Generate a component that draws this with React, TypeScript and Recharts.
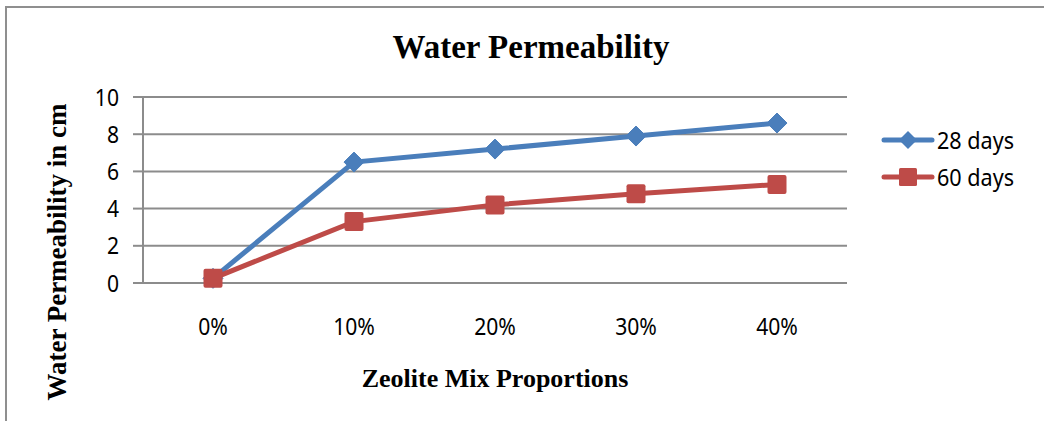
import { CartesianGrid, Line, LineChart, XAxis, YAxis } from 'recharts';

const categories = ['0%', '10%', '20%', '30%', '40%'];
const days28 = [0.25, 6.5, 7.2, 7.9, 8.6];
const days60 = [0.25, 3.3, 4.2, 4.8, 5.3];
const yTicks = [0, 2, 4, 6, 8, 10];

const data = categories.map((c, i) => ({ name: c, d28: days28[i], d60: days60[i] }));

const BLUE = '#4a7ebb';
const RED = '#be4b48';
const GRID = '#8c8c8c';
const SANS = "'Noto Sans', sans-serif";
const SERIF = "'Liberation Serif', serif";

const Diamond = (props: any) => {
  const { cx, cy } = props;
  if (cx == null || cy == null) return null;
  const r = 10;
  return (
    <path
      key={`d-${cx}`}
      d={`M${cx},${cy - r}L${cx + r},${cy}L${cx},${cy + r}L${cx - r},${cy}Z`}
      fill={BLUE}
      stroke={BLUE}
      strokeWidth={1}
      strokeLinejoin="round"
    />
  );
};

const Square = (props: any) => {
  const { cx, cy } = props;
  if (cx == null || cy == null) return null;
  const r = 9.5;
  return <rect key={`s-${cx}`} x={cx - r} y={cy - r} width={r * 2} height={r * 2} rx={2} fill={RED} />;
};

const XTick = (props: any) => {
  const { x, y, payload } = props;
  return (
    <text
      transform={`translate(${x},${y + 52}) scale(0.88,1)`}
      textAnchor="middle"
      fontFamily={SANS}
      fontSize={24}
      fill="#000"
    >
      {payload.value}
    </text>
  );
};

const YTick = (props: any) => {
  const { x, y, payload } = props;
  return (
    <text
      transform={`translate(${x},${y + 8.5}) scale(0.88,1)`}
      textAnchor="end"
      fontFamily={SANS}
      fontSize={24}
      fill="#000"
    >
      {payload.value}
    </text>
  );
};

const legendRows = [
  { label: '28 days', color: BLUE, shape: 'diamond', y: 140 },
  { label: '60 days', color: RED, shape: 'square', y: 177 },
];

export default function App() {
  return (
    <div style={{ position: 'absolute', left: 0, top: 0, width: 1044, height: 421, background: '#fff', overflow: 'hidden' }}>
      <div
        style={{
          position: 'absolute',
          left: 5,
          top: 6,
          width: 1100,
          height: 500,
          borderLeft: '2px solid #8f8f8f',
          borderTop: '2px solid #8f8f8f',
        }}
      />
      <div style={{ position: 'absolute', left: 0, top: 0 }}>
        <LineChart width={1044} height={421} data={data} margin={{ top: 97, right: 197, bottom: 98, left: 0 }}>
          <CartesianGrid horizontal vertical={false} stroke={GRID} strokeWidth={2} />
          <XAxis
            dataKey="name"
            height={40}
            padding={{ left: 70, right: 70 }}
            axisLine={{ stroke: GRID, strokeWidth: 2 }}
            tickLine={false}
            tickSize={0}
            tickMargin={0}
            tick={<XTick />}
          />
          <YAxis
            width={143}
            domain={[0, 10]}
            ticks={yTicks}
            interval={0}
            axisLine={{ stroke: GRID, strokeWidth: 2 }}
            tickLine={{ stroke: GRID, strokeWidth: 2 }}
            tickSize={10}
            tickMargin={14}
            tick={<YTick />}
          />
          <Line
            dataKey="d28"
            name="28 days"
            stroke={BLUE}
            strokeWidth={5}
            dot={<Diamond />}
            activeDot={false}
            isAnimationActive={false}
          />
          <Line
            dataKey="d60"
            name="60 days"
            stroke={RED}
            strokeWidth={5}
            dot={<Square />}
            activeDot={false}
            isAnimationActive={false}
          />
        </LineChart>
      </div>
      <svg width={1044} height={421} style={{ position: 'absolute', left: 0, top: 0, pointerEvents: 'none' }}>
        <text x={531} y={58} textAnchor="middle" fontFamily={SERIF} fontWeight="bold" fontSize={33} fill="#000">
          Water Permeability
        </text>
        <text x={495} y={387} textAnchor="middle" fontFamily={SERIF} fontWeight="bold" fontSize={26} fill="#000">
          Zeolite Mix Proportions
        </text>
        <text
          x={66}
          y={252}
          transform="rotate(-90, 66, 252)"
          textAnchor="middle"
          fontFamily={SERIF}
          fontWeight="bold"
          fontSize={27}
          fill="#000"
        >
          Water Permeability in cm
        </text>
        {legendRows.map((r) => (
          <g key={r.label}>
            <line x1={884} y1={r.y} x2={932} y2={r.y} stroke={r.color} strokeWidth={5} strokeLinecap="round" />
            {r.shape === 'diamond' ? (
              <path d={`M908,${r.y - 9}L917,${r.y}L908,${r.y + 9}L899,${r.y}Z`} fill={r.color} />
            ) : (
              <rect x={899} y={r.y - 9} width={18} height={18} rx={1.5} fill={r.color} />
            )}
            <text
              transform={`translate(937,${r.y + 8.5}) scale(0.9,1)`}
              fontFamily={SANS}
              fontSize={24}
              fill="#000"
            >
              {r.label}
            </text>
          </g>
        ))}
      </svg>
    </div>
  );
}
